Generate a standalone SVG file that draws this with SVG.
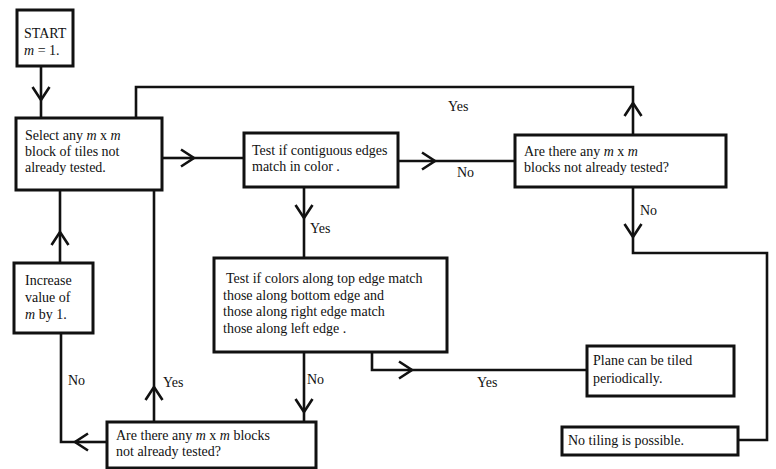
<svg xmlns="http://www.w3.org/2000/svg" width="776" height="469" viewBox="0 0 776 469">
<defs>
<style>
.box{fill:#fff;stroke:#111;stroke-width:3}
.ln{fill:none;stroke:#111;stroke-width:2.6}
.ar{fill:none;stroke:#111;stroke-width:2.6;marker-end:url(#chev)}
text{font-family:"Liberation Serif","Times New Roman",serif;font-size:14px;fill:#111}
.i{font-style:italic}
</style>
<marker id="chev" markerUnits="userSpaceOnUse" viewBox="-16 -10 18 20" refX="0" refY="0" markerWidth="18" markerHeight="20" orient="auto">
<path d="M-13,-8.5 L0,0 L-13,8.5" fill="none" stroke="#111" stroke-width="2.6"/>
</marker>
</defs>
<rect width="776" height="469" fill="#fff"/>
<g id="connectors">
<path class="ar" d="M41,66 V100"/><path class="ln" d="M41,100 V118"/>
<path class="ar" d="M162,158 H194"/><path class="ln" d="M194,158 H244"/>
<path class="ar" d="M398,161 H435"/><path class="ln" d="M435,161 H515"/>
<text x="457" y="177">No</text>
<path class="ar" d="M633,135 V103"/><path class="ln" d="M633,103 V87 H136 V118"/>
<text x="448" y="111">Yes</text>
<path class="ar" d="M633,187 V237"/><path class="ln" d="M633,237 V253 H767 V440 H738"/>
<text x="640" y="215">No</text>
<path class="ar" d="M304,187 V218"/><path class="ln" d="M304,218 V258"/>
<text x="310" y="233">Yes</text>
<path class="ar" d="M372,352 V370 H412"/><path class="ln" d="M412,370 H587"/>
<text x="477" y="387">Yes</text>
<path class="ar" d="M304,352 V412"/><path class="ln" d="M304,412 V422"/>
<text x="307" y="384">No</text>
<path class="ar" d="M154,422 V387"/><path class="ln" d="M154,387 V190"/>
<text x="163" y="387">Yes</text>
<path class="ar" d="M107,442 H75"/><path class="ln" d="M75,442 H61 V333"/>
<text x="68" y="385">No</text>
<path class="ar" d="M60,263 V232"/><path class="ln" d="M60,232 V190"/>
</g>
<g id="start">
<rect class="box" x="17" y="10" width="56" height="56"/>
<text x="24" y="38">START</text>
<text x="24" y="55"><tspan class="i">m</tspan>  =  1.</text>
</g>
<g id="select">
<rect class="box" x="16" y="118" width="146" height="72"/>
<text x="25" y="140">Select any <tspan class="i">m</tspan> x <tspan class="i">m</tspan></text>
<text x="25" y="156">block of tiles not</text>
<text x="25" y="172">already tested.</text>
</g>
<g id="test-contiguous">
<rect class="box" x="244" y="133" width="154" height="54"/>
<text x="252" y="155">Test if contiguous edges</text>
<text x="252" y="171">match in color .</text>
</g>
<g id="are-there-1">
<rect class="box" x="515" y="135" width="211" height="52"/>
<text x="524" y="156">Are there any <tspan class="i">m</tspan> x <tspan class="i">m</tspan></text>
<text x="524" y="172">blocks not already tested?</text>
</g>
<g id="test-colors">
<rect class="box" x="214" y="258" width="233" height="94"/>
<text x="226" y="283">Test  if colors along top edge match</text>
<text x="223" y="300">those along bottom edge and</text>
<text x="223" y="316">those along right edge match</text>
<text x="223" y="333">those along left edge .</text>
</g>
<g id="plane">
<rect class="box" x="587" y="346" width="147" height="50"/>
<text x="593" y="365">Plane can be tiled</text>
<text x="593" y="383">periodically.</text>
</g>
<g id="no-tiling">
<rect class="box" x="562" y="427" width="176" height="28"/>
<text x="568" y="445">No tiling is possible.</text>
</g>
<g id="are-there-2">
<rect class="box" x="107" y="422" width="209" height="46"/>
<text x="116" y="440">Are there any <tspan class="i">m</tspan> x <tspan class="i">m</tspan> blocks</text>
<text x="116" y="456">not already tested?</text>
</g>
<g id="increase">
<rect class="box" x="14" y="263" width="79" height="70"/>
<text x="25" y="285">Increase</text>
<text x="25" y="302">value of</text>
<text x="25" y="319"><tspan class="i">m</tspan> by 1.</text>
</g>
</svg>
